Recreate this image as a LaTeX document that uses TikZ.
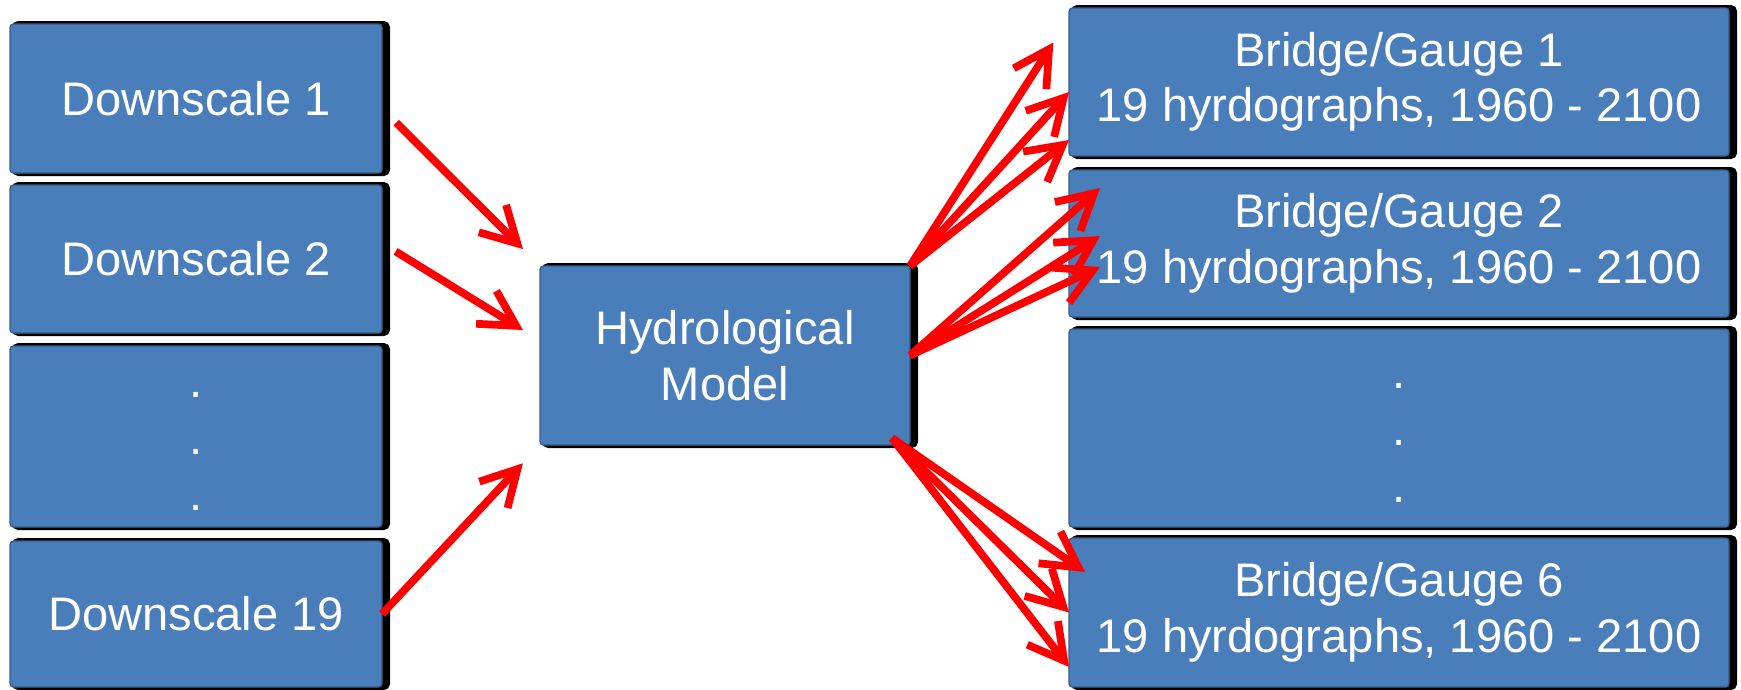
\documentclass[tikz,border=0pt]{standalone}
\usepackage{fontspec}
\setmainfont{Liberation Sans}
\usetikzlibrary{arrows.meta,positioning}
\definecolor{boxblue}{RGB}{74,126,187}
\definecolor{boxedge}{RGB}{56,93,138}
\tikzset{
 box/.style={draw=boxedge,line width=0.4pt,fill=boxblue,rounded corners=1pt,
             text=white,align=center,outer sep=0pt,inner sep=0pt,
             font=\fontsize{13.4}{15.8}\selectfont,
             preaction={fill=black,draw=black,line width=0.06cm,
                        transform canvas={xshift=0.05cm}}},
 inbox/.style={box,minimum width=3.72cm},
 outbox/.style={box,minimum width=6.60cm},
 dotlabel/.style={align=center,text=white,yshift=-0.15cm,
             font=\fontsize{13.4}{16.2}\selectfont},
 arrow/.style={-{Straight Barb[length=10pt,width=11pt]},line width=2.2pt,red}
}
\begin{document}
\begin{tikzpicture}
\useasboundingbox (0,0) rectangle (17.41,-6.89);
% downscaled inputs
\node[inbox,minimum height=1.49cm,anchor=north west] (d1) at (0.10,-0.24) {Downscale 1};
\node[inbox,minimum height=1.48cm,below=0.12cm of d1] (d2) {Downscale 2};
\node[inbox,minimum height=1.81cm,below=0.13cm of d2,
      label={[dotlabel]center:{.\\.\\.}}] (dd) {};
\node[inbox,minimum height=1.46cm,below=0.14cm of dd] (d19) {Downscale 19};
% model
\node[box,minimum width=3.70cm,minimum height=1.79cm] (hm) at (7.25,-3.555) {Hydrological\\Model};
% bridges / gauges
\node[outbox,minimum height=1.48cm,anchor=north west] (g1) at (10.69,-0.08)
      {Bridge/Gauge 1\\19 hyrdographs, 1960 - 2100};
\node[outbox,minimum height=1.47cm,below=0.14cm of g1] (g2)
      {Bridge/Gauge 2\\19 hyrdographs, 1960 - 2100};
\node[outbox,minimum height=1.98cm,below=0.12cm of g2,
      label={[dotlabel]center:{.\\.\\.}}] (gd) {};
\node[outbox,minimum height=1.49cm,below=0.11cm of gd] (g6)
      {Bridge/Gauge 6\\19 hyrdographs, 1960 - 2100};
% inputs to model
\draw[arrow,shorten <=0.2cm,shorten >=0.24cm] ([yshift=-0.1cm]d1.east) -- (hm.north west);
\draw[arrow,shorten <=0.16cm,shorten >=0.2cm] ([yshift=0.16cm]d2.east) -- ([yshift=0.15cm]hm.west);
\draw[arrow,shorten >=0.25cm] (d19.east) -- (hm.south west);
% model to outputs
\draw[arrow,shorten >=0.29cm] (hm.north east) -- ([yshift=-0.1cm]g1.north west);
\draw[arrow] (hm.north east) -- ([yshift=-0.1cm]g1.west);
\draw[arrow] (hm.north east) -- ([yshift=0.16cm]g1.south west);
\draw[arrow] (hm.east) -- ([shift={(0.31,-0.18)}]g2.north west);
\draw[arrow] (hm.east) -- ([shift={(0.31,0.075)}]g2.west);
\draw[arrow] (hm.east) -- ([shift={(0.31,-0.235)}]g2.west);
\draw[arrow] ([shift={(-0.18,0.07)}]hm.south east) -- ([shift={(0.16,-0.34)}]g6.north west);
\draw[arrow] ([shift={(-0.18,0.07)}]hm.south east) -- (g6.west);
\draw[arrow] ([shift={(-0.18,0.07)}]hm.south east) -- ([yshift=0.2cm]g6.south west);
\end{tikzpicture}
\end{document}
